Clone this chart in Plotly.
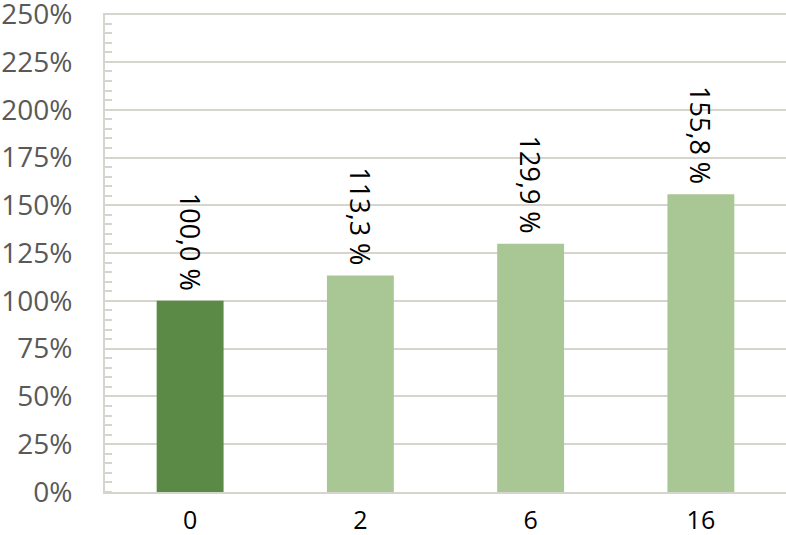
import plotly.graph_objects as go

categories = ["0", "2", "6", "16"]
values = [100.0, 113.3, 129.9, 155.8]
bar_colors = ["#5B8A46", "#A9C795", "#A9C795", "#A9C795"]
labels = [f"{v:.1f}".replace(".", ",") + " %\u00a0" for v in values]
ytick_vals = list(range(0, 251, 25))
ytick_text = [f"{v}%" for v in ytick_vals]

FONT = "Open Sans"
GRID = "#D5D5CD"

fig = go.Figure(go.Bar(
    x=categories, y=values,
    marker=dict(color=bar_colors, line=dict(width=0)),
    text=labels, textposition="outside", textangle=90,
    constraintext="none",
    textfont=dict(family=FONT, size=27, color="#000000"),
    cliponaxis=False,
))

fig.update_layout(
    width=786, height=535,
    margin=dict(l=105, r=0, t=13, b=43, autoexpand=False),
    paper_bgcolor="white", plot_bgcolor="white",
    showlegend=False,
    bargap=0.607,
)
fig.update_xaxes(
    type="category", automargin=False,
    showline=True, linecolor=GRID, linewidth=2,
    showgrid=False, ticks="", ticklabelstandoff=5,
    ticklabeloverflow="allow",
    tickfont=dict(family=FONT, size=25, color="#000000"),
)
fig.update_yaxes(
    range=[0, 250.6], automargin=False,
    tickvals=ytick_vals, ticktext=ytick_text,
    tickfont=dict(family=FONT, size=28, color="#595959"),
    showgrid=True, gridcolor=GRID, gridwidth=2,
    showline=True, linecolor=GRID, linewidth=2,
    zeroline=False,
    ticks="", ticklabelstandoff=25,
    ticklabeloverflow="allow",
    minor=dict(dtick=5, ticks="inside", ticklen=7, tickwidth=2,
               tickcolor=GRID, showgrid=False),
)

fig.write_html(
    "out.html",
    config={"responsive": False, "displayModeBar": False},
    post_script="document.body.style.margin='0';document.body.style.padding='0';",
)
